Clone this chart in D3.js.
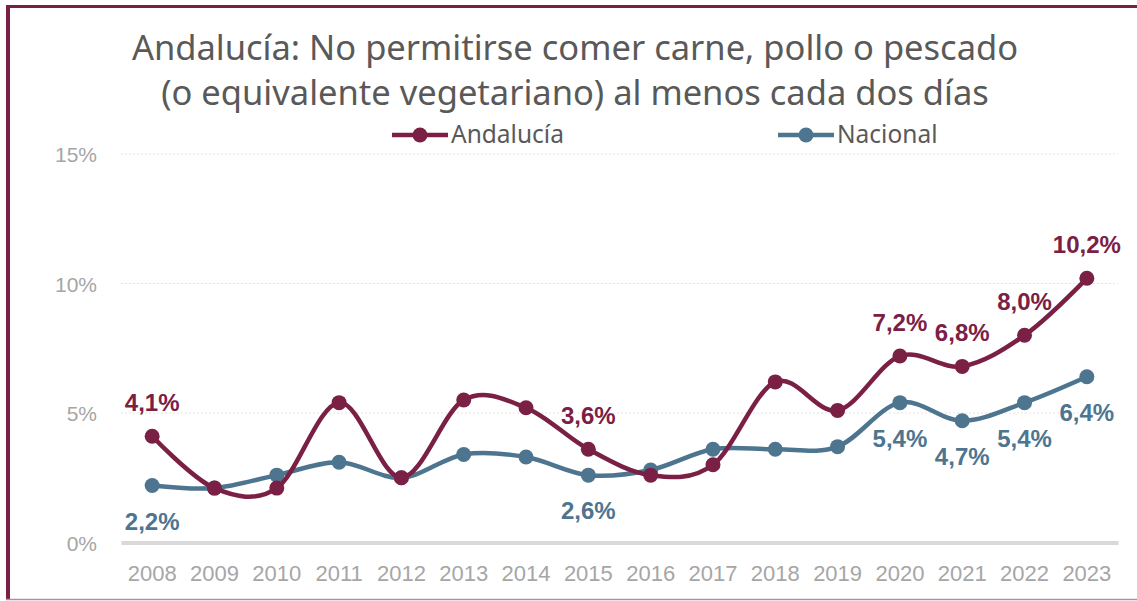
<!DOCTYPE html>
<html>
<head>
<meta charset="utf-8">
<script src="https://cdn.jsdelivr.net/npm/d3@7"></script>
<style>
  body { margin: 0; background: #fff; }
  svg { display: block; }
</style>
</head>
<body>
<div id="chart"></div>
<script>
// Data
var years = ["2008", "2009", "2010", "2011", "2012", "2013", "2014", "2015",
             "2016", "2017", "2018", "2019", "2020", "2021", "2022", "2023"];
var andalucia = [4.1, 2.1, 2.1, 5.4, 2.5, 5.5, 5.2, 3.6, 2.6, 3.0, 6.2, 5.1, 7.2, 6.8, 8.0, 10.2];
var nacional = [2.2, 2.1, 2.6, 3.1, 2.5, 3.4, 3.3, 2.6, 2.8, 3.6, 3.6, 3.7, 5.4, 4.7, 5.4, 6.4];
var yTicks = [0, 5, 10, 15];
// which years get a value label
var andaluciaLabels = ["2008", "2015", "2020", "2021", "2022", "2023"];
var nacionalLabels = ["2008", "2015", "2020", "2021", "2022", "2023"];

var width = 1137;
var height = 601;
var colAnd = "#7b2045";
var colNac = "#4e758f";

var svg = d3.select("#chart")
  .append("svg")
  .attr("width", width)
  .attr("height", height);

// Frame
svg.append("line").attr("x1", 6).attr("x2", width).attr("y1", 6.5).attr("y2", 6.5)
  .attr("stroke", colAnd).attr("stroke-width", 3);
svg.append("line").attr("x1", 8).attr("x2", 8).attr("y1", 5).attr("y2", 600)
  .attr("stroke", colAnd).attr("stroke-width", 4);
svg.append("line").attr("x1", 6).attr("x2", width).attr("y1", 599.5).attr("y2", 599.5)
  .attr("stroke", "#c2859e").attr("stroke-width", 1.5);

// Title
var title = svg.append("text")
  .attr("text-anchor", "middle")
  .attr("fill", "#595959")
  .style("font-family", "'Noto Sans', sans-serif")
  .style("font-size", "34.5px");
title.append("tspan").attr("x", 575).attr("y", 60)
  .text("Andalucía: No permitirse comer carne, pollo o pescado");
title.append("tspan").attr("x", 575).attr("y", 105)
  .text("(o equivalente vegetariano) al menos cada dos días");

// Scales
var xScale = d3.scaleBand()
  .domain(years)
  .range([121, 1118]);
var yScale = d3.scaleLinear()
  .domain([0, 15])
  .range([542.5, 154]);

function cx(d) { return xScale(d) + xScale.bandwidth() / 2; }

// Gridlines
svg.append("g")
  .selectAll("line")
  .data(yTicks.filter(function(t) { return t > 0; }))
  .enter()
  .append("line")
  .attr("x1", 121).attr("x2", 1118)
  .attr("y1", function(d) { return yScale(d); })
  .attr("y2", function(d) { return yScale(d); })
  .attr("stroke", "#e3e3e3")
  .attr("stroke-width", 1)
  .attr("stroke-dasharray", "2,2");

// Y axis
var yAxis = d3.axisLeft(yScale)
  .tickValues(yTicks)
  .tickSize(0)
  .tickPadding(0)
  .tickFormat(function(d) { return d + "%"; });
var yG = svg.append("g")
  .attr("transform", "translate(97,0)")
  .call(yAxis);
yG.select(".domain").remove();
yG.selectAll("text")
  .attr("fill", "#a6a6a6")
  .attr("dy", "0.36em")
  .style("font-family", "'Liberation Sans', Arial, sans-serif")
  .style("font-size", "21px");

// X axis
var xAxis = d3.axisBottom(xScale).tickSize(0).tickPadding(0);
var xG = svg.append("g")
  .attr("transform", "translate(0,542.5)")
  .call(xAxis);
xG.select(".domain")
  .attr("stroke", "#d9d9d9")
  .attr("stroke-width", 4);
xG.selectAll("text")
  .attr("fill", "#a6a6a6")
  .attr("y", 38)
  .attr("dy", 0)
  .style("font-family", "'Liberation Sans', Arial, sans-serif")
  .style("font-size", "22px");

// Lines
var line = d3.line()
  .x(function(d, i) { return cx(years[i]); })
  .y(function(d) { return yScale(d); })
  .curve(d3.curveCardinal.tension(0));

function drawSeries(values, color) {
  svg.append("path")
    .datum(values)
    .attr("d", line)
    .attr("fill", "none")
    .attr("stroke", color)
    .attr("stroke-width", 4.5)
    .attr("stroke-linecap", "round");
  svg.append("g")
    .selectAll("circle")
    .data(values)
    .enter()
    .append("circle")
    .attr("cx", function(d, i) { return cx(years[i]); })
    .attr("cy", function(d) { return yScale(d); })
    .attr("r", 7.5)
    .attr("fill", color);
}
drawSeries(nacional, colNac);
drawSeries(andalucia, colAnd);

// Value labels
function fmt(v) { return v.toFixed(1).replace(".", ",") + "%"; }
function drawLabels(values, which, color, dy) {
  svg.append("g")
    .selectAll("text")
    .data(which)
    .enter()
    .append("text")
    .attr("x", function(y) { return cx(y); })
    .attr("y", function(y) { return yScale(values[years.indexOf(y)]) + dy; })
    .attr("text-anchor", "middle")
    .attr("fill", color)
    .style("font-family", "'Liberation Sans', Arial, sans-serif")
    .style("font-weight", "bold")
    .style("font-size", "24px")
    .text(function(y) { return fmt(values[years.indexOf(y)]); });
}
drawLabels(andalucia, andaluciaLabels, colAnd, -25);
drawLabels(nacional, nacionalLabels, colNac, 44);

// Legend
var legend = [
  { name: "Andalucía", color: colAnd, x: 392 },
  { name: "Nacional", color: colNac, x: 778 }
];
var lg = svg.append("g").selectAll("g").data(legend).enter().append("g")
  .attr("transform", function(d) { return "translate(" + d.x + ",135)"; });
lg.append("line").attr("x1", 0).attr("x2", 56)
  .attr("stroke", function(d) { return d.color; })
  .attr("stroke-width", 4.5);
lg.append("circle").attr("cx", 28).attr("r", 7.5)
  .attr("fill", function(d) { return d.color; });
lg.append("text")
  .attr("x", 59)
  .attr("y", 8)
  .attr("fill", "#595959")
  .style("font-family", "'Noto Sans', sans-serif")
  .style("font-size", "24.5px")
  .text(function(d) { return d.name; });
</script>
</body>
</html>
